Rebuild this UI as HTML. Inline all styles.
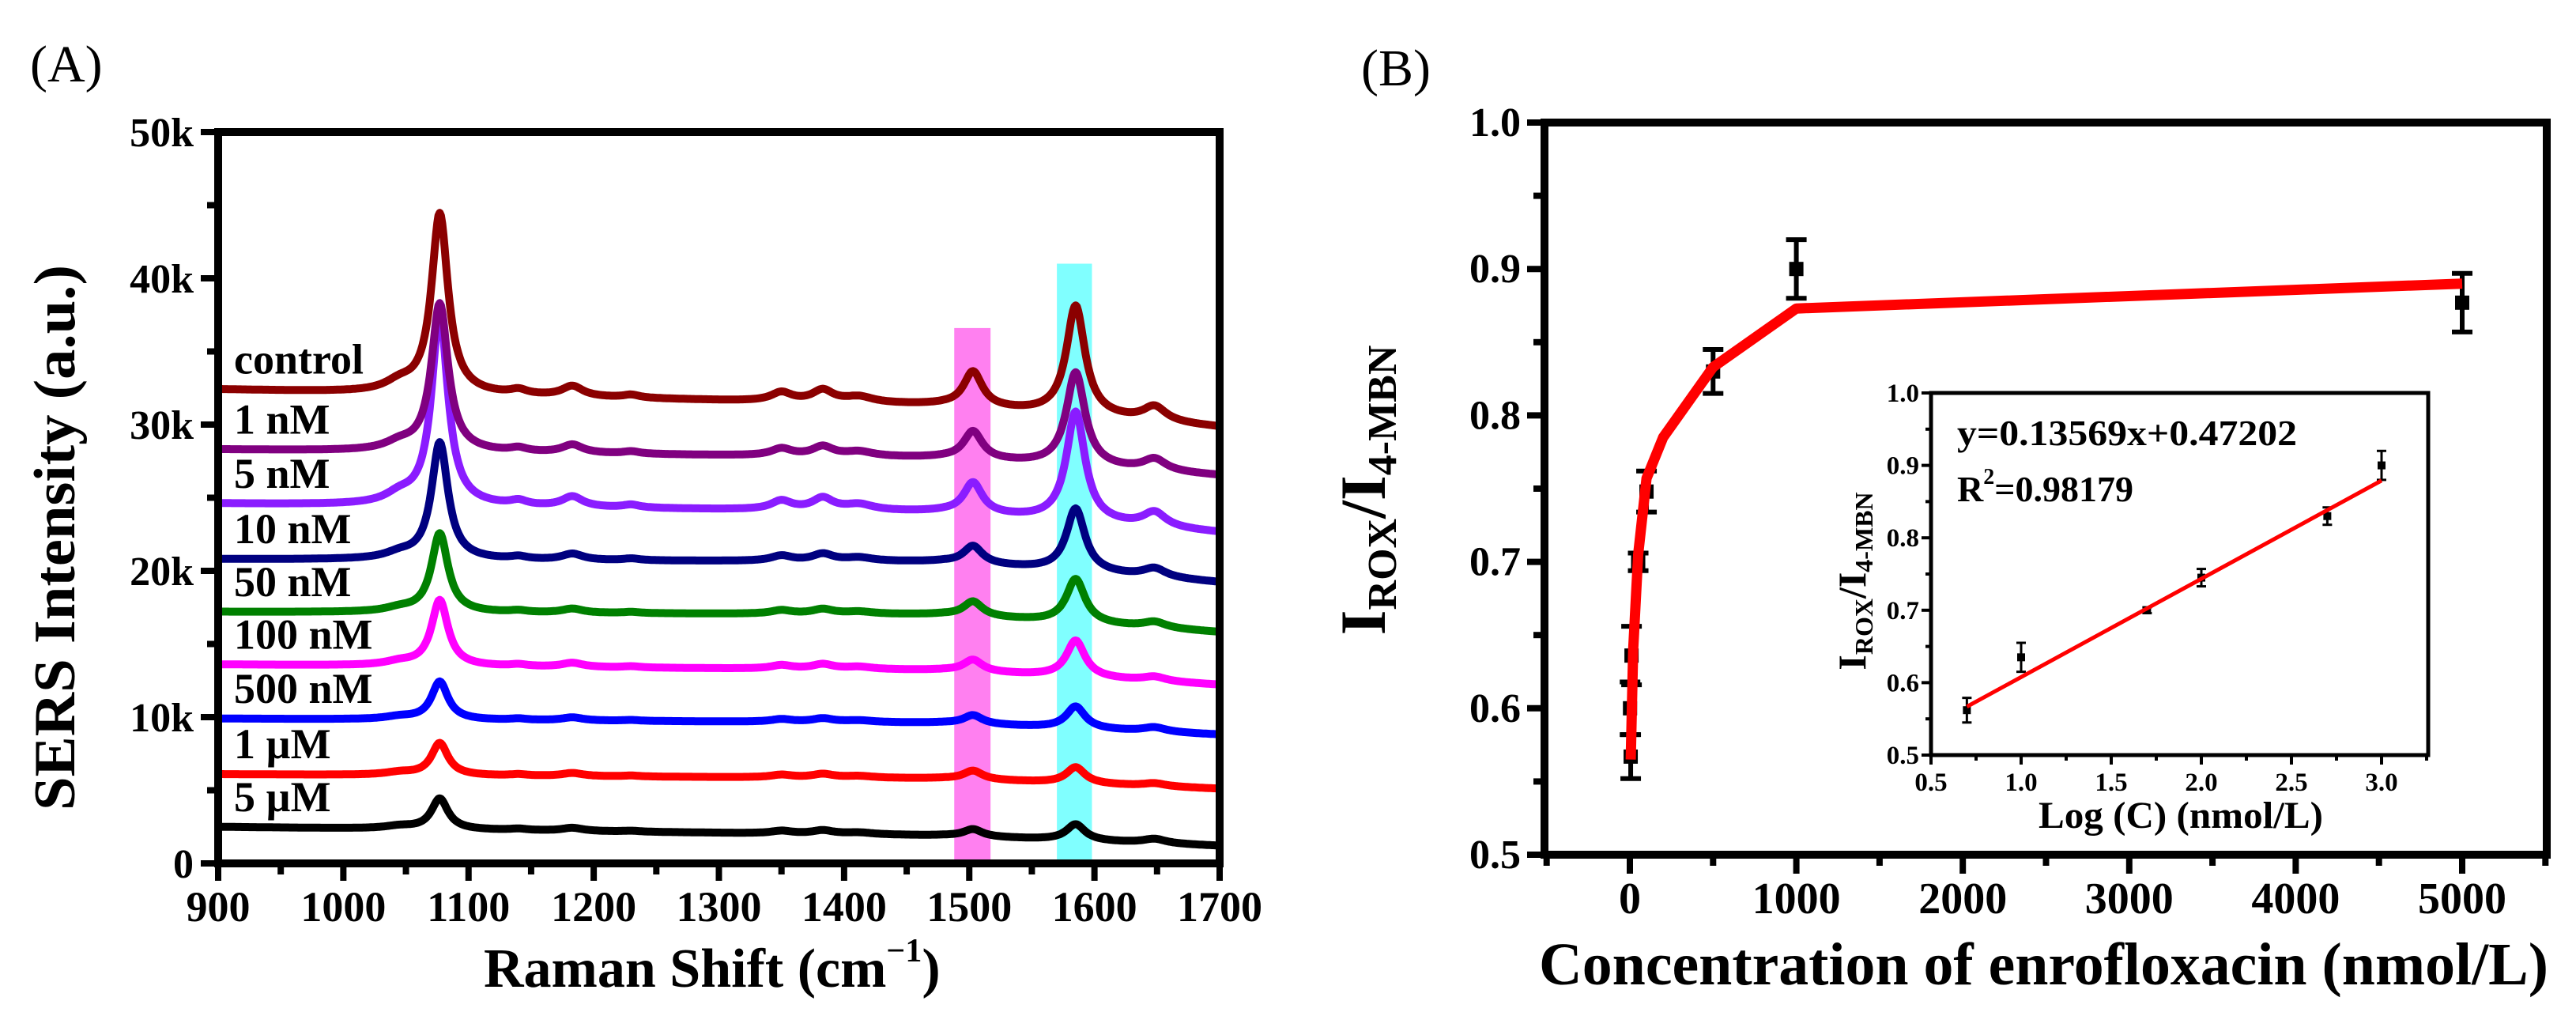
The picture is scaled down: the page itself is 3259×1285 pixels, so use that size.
<!DOCTYPE html>
<html><head><meta charset="utf-8"><style>
html,body{margin:0;padding:0;background:#fff;}
svg{display:block;font-family:"Liberation Serif",serif;}
</style></head><body>
<svg id="fig" width="3259" height="1285" viewBox="0 0 3259 1285" xmlns="http://www.w3.org/2000/svg">
<rect width="3259" height="1285" fill="#fff"/>
<g id="pa"></g>
<g id="pb"></g>
</svg>
<script>
// ---------- Panel A data ----------
const seriesNames = ["control","1 nM","5 nM","10 nM","50 nM","100 nM","500 nM","1 µM","5 µM"];
const seriesColors = ["#8b0000","#800080","#8a1cff","#000080","#008000","#ff00ff","#0000ff","#ff0000","#000000"];
const baseStart = [32.4,28.3,24.6,20.8,17.2,13.6,9.9,6.1,2.5];
const baseMid = [31.3,27.7,24.0,20.6,17.0,13.2,9.6,5.8,1.9];
const baseEnd = [29.8,26.5,22.6,19.2,15.8,12.2,8.8,5.1,1.2];
const peak1077 = [12.3,10.1,13.0,8.0,5.4,4.5,2.6,2.2,2.1];
const peak1503 = [2.4,1.9,2.1,1.2,1.0,0.8,0.6,0.6,0.5];
const peak1585 = [7.5,6.4,7.5,4.3,3.0,2.5,1.5,1.1,1.1];
const peak1648 = [1.0,0.8,1.0,0.6,0.4,0.3,0.3,0.2,0.3];
const minorScale = [1.0,0.8,1.0,0.6,0.4,0.4,0.3,0.3,0.3];
const yTicksA = ["0","10k","20k","30k","40k","50k"];
const xTicksA = ["900","1000","1100","1200","1300","1400","1500","1600","1700"];
const bandPink = [1488,1517,36.6];
const bandCyan = [1570,1598,41.0];

// ---------- Panel B data ----------
const concX = [1,5,10,50,100,500,1000,5000];
const ratioY = [0.600,0.567,0.636,0.700,0.748,0.830,0.900,0.877];
const ratioErr = [0.018,0.015,0.02,0.006,0.014,0.015,0.02,0.02];
const fitCX = [5,20,50,100,200,500,1000,5000];
const fitCY = [0.565,0.64,0.705,0.757,0.785,0.833,0.873,0.890];
const xTicksB = ["0","1000","2000","3000","4000","5000"];
const yTicksB = ["0.5","0.6","0.7","0.8","0.9","1.0"];
const logX = [0.699,1.0,1.699,2.0,2.699,3.0];
const logY = [0.562,0.635,0.700,0.745,0.830,0.900];
const logErr = [0.017,0.02,0.004,0.012,0.012,0.02];
const fitSlope = 0.13569, fitIntercept = 0.47202;
const xTicksIn = ["0.5","1.0","1.5","2.0","2.5","3.0"];
const yTicksIn = ["0.5","0.6","0.7","0.8","0.9","1.0"];

const NS="http://www.w3.org/2000/svg";
function mk(parent,tag,attrs,text){const e=document.createElementNS(NS,tag);for(const k in attrs)e.setAttribute(k,attrs[k]);if(text!==undefined)e.textContent=text;parent.appendChild(e);return e;}

// ===== Panel A =====
const pa=document.getElementById('pa');
const AX0=276,AX1=1543,AY0=1092,AY1=167;
const ax=v=>AX0+(v-900)/800*(AX1-AX0);
const ay=v=>AY0-v/50*(AY0-AY1);
let t=mk(pa,'text',{x:38,y:103,'font-size':66},'(A)');

let b=mk(pa,'rect',{x:ax(bandPink[0]),y:ay(bandPink[2]),width:ax(bandPink[1])-ax(bandPink[0]),height:AY0-ay(bandPink[2]),fill:'#ff80f0'});

b=mk(pa,'rect',{x:ax(bandCyan[0]),y:ay(bandCyan[2]),width:ax(bandCyan[1])-ax(bandCyan[0]),height:AY0-ay(bandCyan[2]),fill:'#80ffff'});

function lor(x,c,w){return 1/(1+((x-c)/w)**2);}
function spec(i,x){
  let base = x<1480 ? baseStart[i]+(baseMid[i]-baseStart[i])*(x-900)/580 : baseMid[i]+(baseEnd[i]-baseMid[i])*(x-1480)/220;
  let m=minorScale[i];
  let y=base+peak1077[i]*lor(x,1077,8)+peak1503[i]*lor(x,1503,9)+peak1585[i]*lor(x,1585,9)+peak1648[i]*lor(x,1648,11);
  y+=m*(0.6*lor(x,1045,14)+0.7*lor(x,1183,10)+0.3*lor(x,1140,8)+0.6*lor(x,1350,10)+0.8*lor(x,1383,10)+0.4*lor(x,1412,14)+0.2*lor(x,1230,8));
  return y;
}
for(let i=seriesNames.length-1;i>=0;i--){
  let d='';
  for(let x=900;x<=1700;x+=1){d+=(x===900?'M':'L')+ax(x).toFixed(1)+','+ay(spec(i,x)).toFixed(1);}
  const p=mk(pa,'path',{d:d,fill:'none',stroke:seriesColors[i],'stroke-width':10,'stroke-linejoin':'round'});
  
  
  const l=mk(pa,'text',{x:296,y:ay(baseStart[i])-20,'font-size':54,'font-weight':'bold'},seriesNames[i]);
  
  
}
let f=mk(pa,'rect',{x:AX0,y:AY1,width:AX1-AX0,height:AY0-AY1,fill:'none',stroke:'#000','stroke-width':10});

for(let v=0;v<=50;v+=5){
  const maj=v%10===0;
  mk(pa,'line',{x1:AX0,x2:AX0-(maj?22:14),y1:ay(v),y2:ay(v),stroke:'#000','stroke-width':8});
}
yTicksA.forEach((s,k)=>{const e=mk(pa,'text',{x:245,y:ay(k*10)+18,'font-size':52,'font-weight':'bold','text-anchor':'end'},s);
  });
for(let v=900;v<=1700;v+=50){
  const maj=v%100===0;
  mk(pa,'line',{x1:ax(v),x2:ax(v),y1:AY0,y2:AY0+(maj?22:14),stroke:'#000','stroke-width':8});
}
xTicksA.forEach(s=>{const e=mk(pa,'text',{x:ax(+s),y:1165,'font-size':54,'font-weight':'bold','text-anchor':'middle'},s);
  });
t=mk(pa,'text',{x:612,y:1248,'font-size':70,'font-weight':'bold'});

mk(t,'tspan',{},'Raman Shift (cm');mk(t,'tspan',{'font-size':42,dy:-32},'−1');mk(t,'tspan',{dy:32},')');
t=mk(pa,'text',{x:0,y:0,'font-size':74,'font-weight':'bold','text-anchor':'middle',transform:'translate(94,680) rotate(-90)',textLength:690,lengthAdjust:'spacingAndGlyphs'},'SERS Intensity (a.u.)');


// ===== Panel B =====
const pb=document.getElementById('pb');
const BX0=1954,BX1=3222,BY0=1081,BY1=155;
const bx=v=>2062+v/1000*210.6;
const by=v=>BY0-(v-0.5)/0.5*(BY0-BY1);
t=mk(pb,'text',{x:1722,y:108,'font-size':66},'(B)');

f=mk(pb,'rect',{x:BX0,y:BY1,width:BX1-BX0,height:BY0-BY1,fill:'none',stroke:'#000','stroke-width':10});

for(let k=0;k<=10;k++){const v=0.5+k*0.05;const maj=k%2===0;
  mk(pb,'line',{x1:BX0,x2:BX0-(maj?22:14),y1:by(v),y2:by(v),stroke:'#000','stroke-width':8});}
yTicksB.forEach(s=>{const e=mk(pb,'text',{x:1924,y:by(+s)+17,'font-size':52,'font-weight':'bold','text-anchor':'end'},s);
  });
for(let v=-500;v<=5500;v+=500){const maj=v%1000===0;
  mk(pb,'line',{x1:bx(v),x2:bx(v),y1:BY0,y2:BY0+(maj?24:14),stroke:'#000','stroke-width':8});}
xTicksB.forEach(s=>{const e=mk(pb,'text',{x:bx(+s),y:1155,'font-size':56,'font-weight':'bold','text-anchor':'middle'},s);
  });
t=mk(pb,'text',{x:1947,y:1245,'font-size':76,'font-weight':'bold',textLength:1277,lengthAdjust:'spacingAndGlyphs'},'Concentration of  enrofloxacin (nmol/L)');

const yt=mk(pb,'text',{x:0,y:0,'font-size':82,'font-weight':'bold','text-anchor':'middle',transform:'translate(1752,620) rotate(-90)'});

mk(yt,'tspan',{},'I');mk(yt,'tspan',{'font-size':52,dy:14},'ROX');mk(yt,'tspan',{dy:-14},'/I');mk(yt,'tspan',{'font-size':52,dy:14},'4-MBN');
concX.forEach((c,i)=>{
  const x=bx(c),y1=by(ratioY[i]-ratioErr[i]),y2=by(ratioY[i]+ratioErr[i]);
  const g=mk(pb,'g',{});
  
  mk(g,'line',{x1:x,x2:x,y1:y1,y2:y2,stroke:'#000','stroke-width':6});
  mk(g,'line',{x1:x-13,x2:x+13,y1:y1,y2:y1,stroke:'#000','stroke-width':6});
  mk(g,'line',{x1:x-13,x2:x+13,y1:y2,y2:y2,stroke:'#000','stroke-width':6});
  mk(g,'rect',{x:x-9,y:by(ratioY[i])-9,width:18,height:18,fill:'#000'});
});
let fd='';fitCX.forEach((c,i)=>{fd+=(i?'L':'M')+bx(c).toFixed(1)+','+by(fitCY[i]).toFixed(1);});
let fl=mk(pb,'path',{d:fd,fill:'none',stroke:'#ff0000','stroke-width':13,'stroke-linejoin':'round'});


const IX0=2443,IX1=3072,IY0=955,IY1=497;
const ix=v=>IX0+(v-0.5)/0.5*114;
const iy=v=>IY0-(v-0.5)/0.5*(IY0-IY1);
const ins=mk(pb,'g',{});
mk(ins,'rect',{x:IX0,y:IY1,width:IX1-IX0,height:IY0-IY1,fill:'#fff',stroke:'#000','stroke-width':5});
for(let k=0;k<=10;k++){const v=0.5+k*0.05;const maj=k%2===0;
  mk(ins,'line',{x1:IX0,x2:IX0-(maj?12:7),y1:iy(v),y2:iy(v),stroke:'#000','stroke-width':4});}
yTicksIn.forEach(s=>{const e=mk(ins,'text',{x:2428,y:iy(+s)+11,'font-size':33,'font-weight':'bold','text-anchor':'end'},s);
  });
for(let k=0;k<=11;k++){const v=0.5+k*0.25;const maj=k%2===0;
  mk(ins,'line',{x1:ix(v),x2:ix(v),y1:IY0,y2:IY0+(maj?12:7),stroke:'#000','stroke-width':4});}
xTicksIn.forEach(s=>{const e=mk(ins,'text',{x:ix(+s),y:1000,'font-size':33,'font-weight':'bold','text-anchor':'middle'},s);
  });
logX.forEach((c,i)=>{
  const x=ix(c),y1=iy(logY[i]-logErr[i]),y2=iy(logY[i]+logErr[i]);
  const g=mk(ins,'g',{});
  
  mk(g,'line',{x1:x,x2:x,y1:y1,y2:y2,stroke:'#000','stroke-width':3});
  mk(g,'line',{x1:x-6,x2:x+6,y1:y1,y2:y1,stroke:'#000','stroke-width':3});
  mk(g,'line',{x1:x-6,x2:x+6,y1:y2,y2:y2,stroke:'#000','stroke-width':3});
  mk(g,'rect',{x:x-5,y:iy(logY[i])-5,width:10,height:10,fill:'#000'});
});
const lx0=logX[0],lx1=logX[logX.length-1];
let il=mk(ins,'line',{x1:ix(lx0),y1:iy(fitSlope*lx0+fitIntercept),x2:ix(lx1),y2:iy(fitSlope*lx1+fitIntercept),stroke:'#ff0000','stroke-width':5});

t=mk(ins,'text',{x:2476,y:563,'font-size':46,'font-weight':'bold',textLength:430,lengthAdjust:'spacingAndGlyphs'},'y=0.13569x+0.47202');

t=mk(ins,'text',{x:2476,y:634,'font-size':46,'font-weight':'bold'});

mk(t,'tspan',{},'R');mk(t,'tspan',{'font-size':28,dy:-22},'2');mk(t,'tspan',{dy:22},'=0.98179');
t=mk(ins,'text',{x:2759,y:1047,'font-size':48,'font-weight':'bold','text-anchor':'middle',textLength:360,lengthAdjust:'spacingAndGlyphs'},'Log (C) (nmol/L)');

const it=mk(ins,'text',{x:0,y:0,'font-size':50,'font-weight':'bold','text-anchor':'middle',transform:'translate(2360,735) rotate(-90)'});

mk(it,'tspan',{},'I');mk(it,'tspan',{'font-size':32,dy:9},'ROX');mk(it,'tspan',{dy:-9},'/I');mk(it,'tspan',{'font-size':32,dy:9},'4-MBN');
</script>
</body></html>
